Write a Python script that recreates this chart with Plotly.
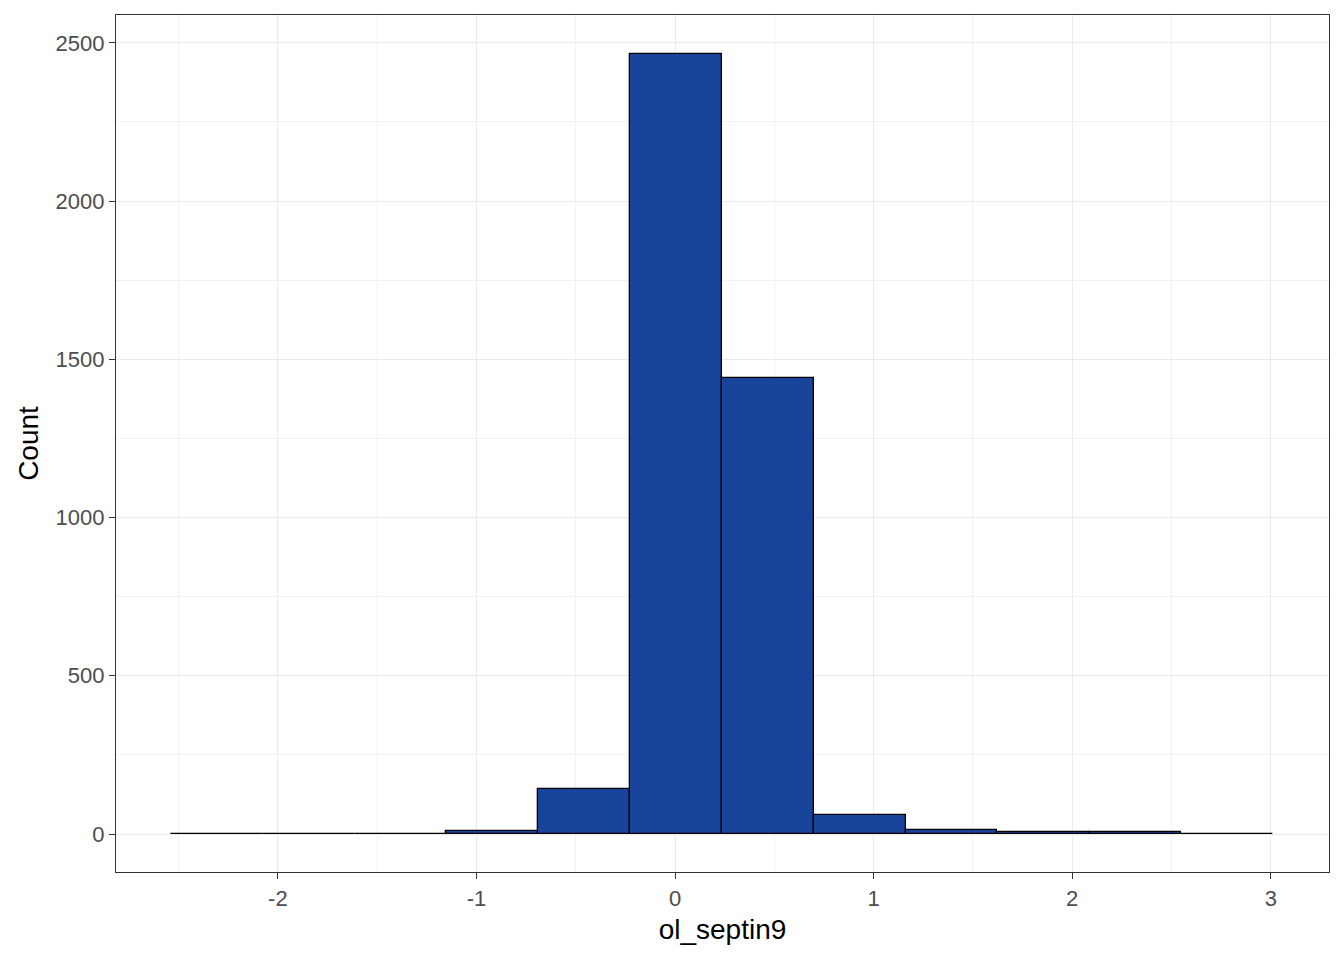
import plotly.graph_objects as go

bin_width = 0.4624
bin_centers = [-2.307, -1.845, -1.382, -0.920, -0.458, 0.005, 0.467, 0.930, 1.392, 1.854, 2.317, 2.779]
counts = [1, 0, 1, 8, 142, 2466, 1441, 59, 13, 5, 5, 1]

x_ticks = [-2, -1, 0, 1, 2, 3]
y_ticks = [0, 500, 1000, 1500, 2000, 2500]

fig = go.Figure()
fig.add_trace(go.Bar(
    x=bin_centers, y=counts, width=[bin_width] * len(counts),
    marker=dict(color="#184499", line=dict(color="black", width=1.3)),
    showlegend=False,
))

font = "Liberation Sans, Arial, sans-serif"
axis_common = dict(
    showline=True, linecolor="#333333", linewidth=1.3, mirror=True,
    ticks="outside", ticklen=6, tickcolor="#333333", tickwidth=1.2,
    showgrid=True, gridcolor="#EBEBEB", gridwidth=1.3,
    zeroline=False,
    tickfont=dict(family=font, size=22, color="#4D4D4D"),
)

fig.update_layout(
    width=1344, height=960,
    margin=dict(l=108, r=23, t=7, b=96),
    paper_bgcolor="white", plot_bgcolor="white",
    bargap=0,
    xaxis=dict(
        range=[-2.815, 3.293], tickvals=x_ticks, ticktext=[str(v) for v in x_ticks],
        minor=dict(dtick=0.5, tick0=0.5, showgrid=True, gridcolor="#F2F2F2", gridwidth=0.8),
        title=dict(text="ol_septin9", font=dict(family=font, size=28, color="black"), standoff=9),
        **axis_common,
    ),
    yaxis=dict(
        range=[-120, 2588], tickvals=y_ticks, ticktext=[str(v) for v in y_ticks],
        minor=dict(dtick=250, tick0=250, showgrid=True, gridcolor="#F2F2F2", gridwidth=0.8),
        title=dict(text="Count", font=dict(family=font, size=28, color="black"), standoff=8),
        **axis_common,
    ),
)

fig.write_html("out.html")
